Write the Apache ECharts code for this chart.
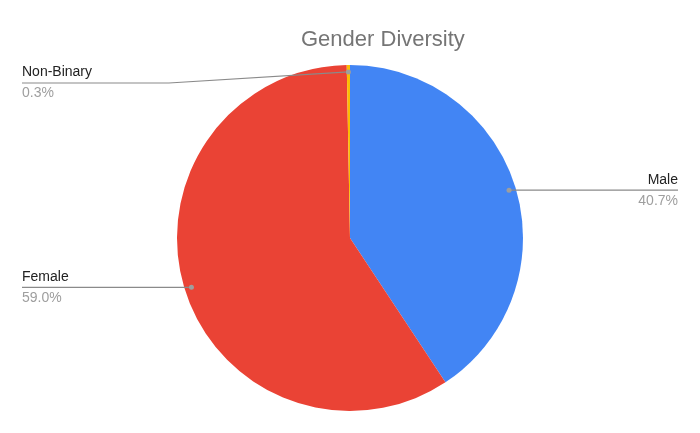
<!DOCTYPE html>
<html>
<head>
<meta charset="utf-8">
<script src="https://cdn.jsdelivr.net/npm/echarts@6/dist/echarts.min.js"></script>
<style>html,body{margin:0;padding:0;background:#fff}#c{width:700px;height:433px}</style>
</head>
<body>
<div id="c"></div>
<script>
const categories = ['Male', 'Female', 'Non-Binary'];
const values = [40.7, 59.0, 0.3];
const colors = ['#4285F4', '#EA4335', '#FBBC04'];
const titleText = 'Gender Diversity';

const CX = 350, CY = 238, R = 173;
const FONT = '"Liberation Sans", Arial, sans-serif';
const total = values.reduce((a, b) => a + b, 0);

function anchor(i) {
  let before = 0;
  for (let k = 0; k < i; k++) before += values[k];
  const mid = (before + values[i] / 2) / total * Math.PI * 2;
  const r = R * 0.96;
  return [CX + r * Math.sin(mid), CY - r * Math.cos(mid)];
}
function leader(i) {
  const a = anchor(i);
  const right = a[0] > CX;
  const ly = Math.max(a[1], 83);
  const ex = right ? 678 : 22;
  const bx = ex + (a[0] - ex) * 0.45;
  return { a: a, right: right, ly: ly, ex: ex, pts: [[a[0], a[1]], [bx, ly], [ex, ly]] };
}

const graphics = [];
categories.forEach((c, i) => {
  const L = leader(i);
  graphics.push({ type: 'polyline', z: 100, shape: { points: L.pts }, style: { stroke: '#8a8a8a', lineWidth: 1.2, fill: null } });
  graphics.push({ type: 'circle', z: 101, shape: { cx: L.a[0], cy: L.a[1], r: 2.5 }, style: { fill: '#9e9e9e' } });
});

const chart = echarts.init(document.getElementById('c'));
chart.setOption({
  animation: false,
  title: {
    text: titleText,
    left: 296,
    top: 24,
    textStyle: { fontFamily: FONT, fontSize: 22, fontWeight: 'normal', color: '#757575' }
  },
  graphic: graphics,
  series: [{
    type: 'pie',
    center: [CX, CY],
    radius: R,
    startAngle: 90,
    clockwise: true,
    avoidLabelOverlap: false,
    itemStyle: { borderWidth: 0 },
    emphasis: { disabled: true },
    data: categories.map((c, i) => ({ name: c, value: values[i], itemStyle: { color: colors[i] } })),
    label: {
      show: true,
      position: 'outside',
      formatter: function (p) { return '{n|' + p.name + '}\n{p|' + (p.value / total * 100).toFixed(1) + '%}'; },
      rich: {
        n: { fontFamily: FONT, fontSize: 14, color: '#222222', lineHeight: 21 },
        p: { fontFamily: FONT, fontSize: 14, color: '#9e9e9e', lineHeight: 21 }
      }
    },
    labelLine: { show: false },
    labelLayout: function (params) {
      const L = leader(params.dataIndex);
      return { x: L.ex, y: L.ly, align: L.right ? 'right' : 'left', verticalAlign: 'middle' };
    }
  }]
});
</script>
</body>
</html>
